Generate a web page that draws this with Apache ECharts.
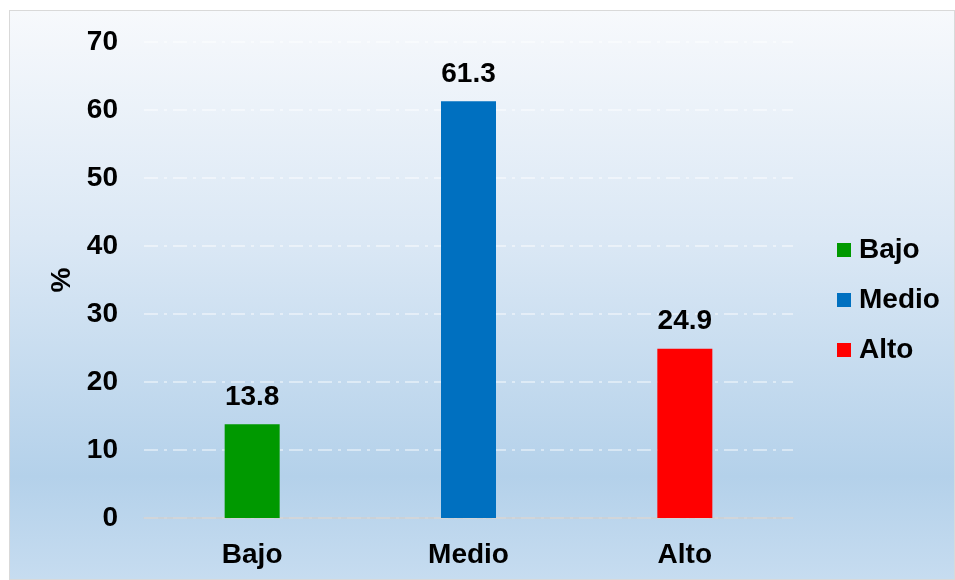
<!DOCTYPE html>
<html>
<head>
<meta charset="utf-8">
<script src="https://cdn.jsdelivr.net/npm/echarts@6/dist/echarts.min.js"></script>
<style>
html,body{margin:0;padding:0;background:#fff;}
#chart{
  position:absolute;left:9px;top:10px;width:946px;height:570px;
  border:1px solid #d9d9d9;box-sizing:border-box;
  background:linear-gradient(to bottom,#f7f9fc 0%,#dbe8f5 40%,#b4d1ea 82%,#c6dcf0 100%);
}
</style>
</head>
<body>
<div id="chart"></div>
<script>
let categories=["Bajo","Medio","Alto"]
let values=[13.8,61.3,24.9]
let colors=["#009900","#0070c0","#ff0000"]
let yTicks=[0,10,20,30,40,50,60,70]

let font={fontFamily:"Liberation Sans, Arial, sans-serif",fontWeight:"bold",fontSize:28,color:"#000"}

let series=categories.map((name,i)=>({
  name:name,
  type:"bar",
  stack:"all",
  barWidth:55,
  itemStyle:{color:colors[i]},
  label:{show:true,position:"top",distance:13,...font,formatter:(p)=>p.value.toFixed(1)},
  data:categories.map((c,j)=>j===i?values[i]:"-")
}))

let myChart=echarts.init(document.getElementById("chart"))
myChart.setOption({
  animation:false,
  grid:{left:134,right:161,top:31,bottom:61},
  legend:{
    orient:"vertical",
    left:822,
    top:220,
    itemWidth:14,
    itemHeight:14,
    itemGap:22,
    icon:"rect",
    textStyle:{...font,lineHeight:28,padding:[0,0,0,3]},
    data:categories
  },
  xAxis:{
    type:"category",
    data:categories,
    axisTick:{show:false},
    axisLine:{lineStyle:{color:"#d0d0d0",width:1.5}},
    axisLabel:{...font,margin:23}
  },
  yAxis:{
    type:"value",
    min:yTicks[0],
    max:yTicks[yTicks.length-1],
    interval:10,
    name:"%",
    nameLocation:"middle",
    nameRotate:90,
    nameGap:65,
    nameTextStyle:font,
    axisLine:{show:false},
    axisTick:{show:false},
    axisLabel:{...font,margin:26},
    splitLine:{lineStyle:{color:"rgba(255,255,255,0.6)",width:1.5,type:[14,6,3,6]}}
  },
  series:series
})
</script>
</body>
</html>
